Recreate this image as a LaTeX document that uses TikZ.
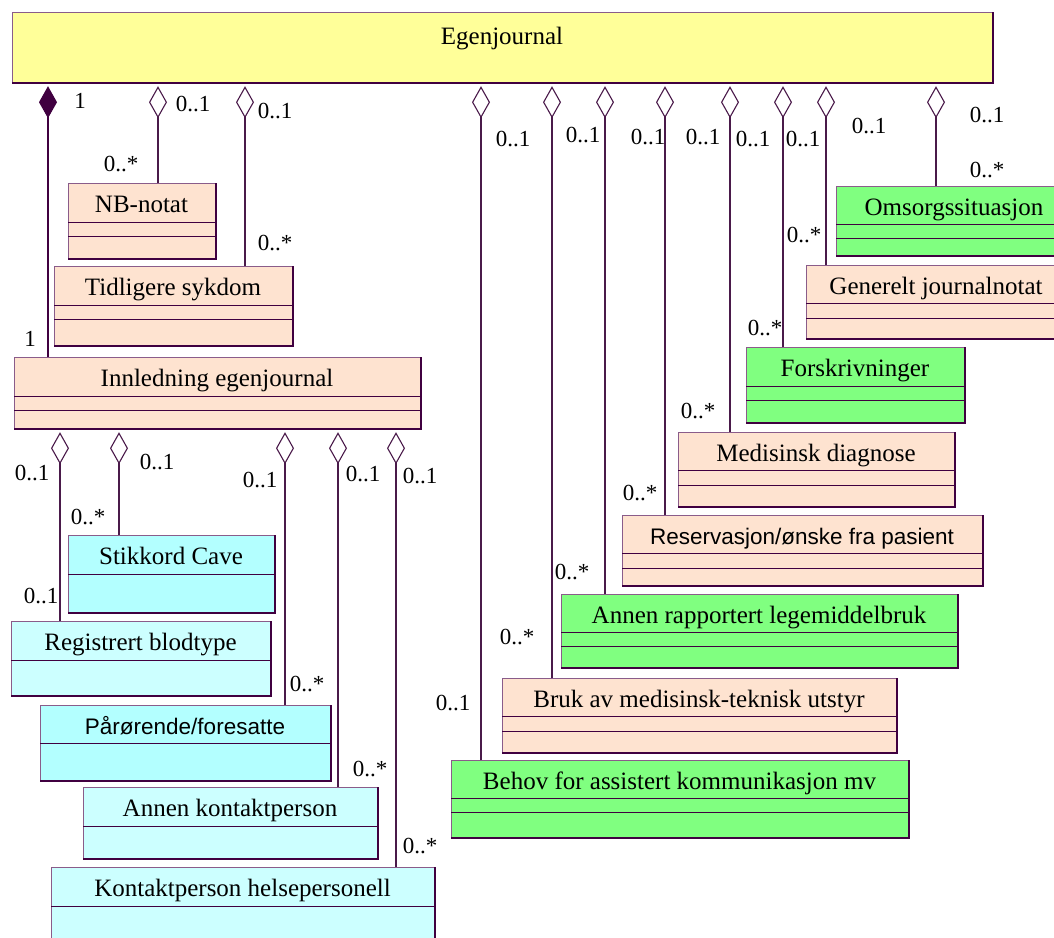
\documentclass[tikz,border=0pt]{standalone}
\usepackage{fontspec}
\setmainfont{Liberation Serif}
\newfontfamily\arialf{Liberation Sans}
\usetikzlibrary{arrows.meta}
\definecolor{yel}{HTML}{FFFF99}
\definecolor{peach}{HTML}{FEE3D0}
\definecolor{grn}{HTML}{80FF80}
\definecolor{cyA}{HTML}{B3FFFF}
\definecolor{cyB}{HTML}{CCFFFF}
\definecolor{edgeL}{HTML}{8A5C8A}
\definecolor{edgeD}{HTML}{400040}
\definecolor{ln}{HTML}{4A1A4A}
\tikzset{
  box/.style={draw=edgeL, line width=1.2pt, inner sep=0pt, anchor=north west},
  ttl/.style={font=\fontsize{25}{25}\selectfont, anchor=base, inner sep=0pt},
  sttl/.style={font=\arialf\fontsize{22.5}{22.5}\selectfont, anchor=base, inner sep=0pt},
  mult/.style={font=\fontsize{23}{23}\selectfont, inner sep=0pt},
  sepl/.style={draw=edgeD, line width=1pt},
  agg/.style={draw=ln, line width=1.1pt, -{Diamond[open, length=32pt, width=18pt]}, shorten >=3pt},
  cmp/.style={draw=edgeD, line width=1.1pt, -{Diamond[length=32pt, width=18pt]}, shorten >=3pt},
}
\newcommand\umlcls[9]{%
  \node[box, fill=#6, minimum width={(#4-#2)*1pt}, minimum height={(#5-#3)*1pt}] (#1) at (#2,#3) {};
  \foreach \yy in {#9} {\draw[sepl] (#2,\yy) -- (#4,\yy);}
  \draw[edgeD, line width=1.6pt] (#1.north east) -- (#1.south east) -- (#1.south west);
  \node[#7] (#1-t) at ({(#2+#4)/2},{#3+29.5}) {#8};
}
\begin{document}
\begin{tikzpicture}[x=1pt,y=-1pt]
\fill[white] (0,0) rectangle (1054,937);
\useasboundingbox (0,0) rectangle (1054,937);

% main class
\node[box, fill=yel, minimum width=980pt, minimum height=70pt] (egen) at (12,12) {};
\draw[edgeD, line width=1.6pt] (egen.north east) -- (egen.south east) -- (egen.south west);
\node[ttl] (egen-t) at (502,44) {Egenjournal};

% classes
\umlcls{nb}{68}{183}{215}{258}{peach}{ttl}{NB-notat}{222,236}
\umlcls{tid}{54}{266}{292}{345}{peach}{ttl}{Tidligere sykdom}{305,319}
\umlcls{innl}{14}{357}{420}{428}{peach}{ttl}{Innledning egenjournal}{396,410}
\umlcls{stik}{68}{535}{274}{612}{cyA}{ttl}{Stikkord Cave}{574}
\umlcls{reg}{11}{621}{270}{695}{cyB}{ttl}{Registrert blodtype}{660}
\umlcls{par}{40}{705}{330}{780}{cyA}{sttl}{Pårørende/foresatte}{743}
\umlcls{ann}{83}{787}{377}{858}{cyB}{ttl}{Annen kontaktperson}{826}
\umlcls{kon}{51}{867}{434}{952}{cyB}{ttl}{Kontaktperson helsepersonell}{906}
\umlcls{oms}{836}{186}{1072}{255}{grn}{ttl}{Omsorgssituasjon}{224,238}
\umlcls{gen}{806}{265}{1066}{338}{peach}{ttl}{Generelt journalnotat}{303,318}
\umlcls{fors}{746}{347}{964}{422}{grn}{ttl}{Forskrivninger}{386,400}
\umlcls{med}{678}{432}{954}{506}{peach}{ttl}{Medisinsk diagnose}{470,485}
\umlcls{res}{622}{515}{982}{585}{peach}{sttl}{Reservasjon/ønske fra pasient}{553,568}
\umlcls{arl}{561}{594}{957}{667}{grn}{ttl}{Annen rapportert legemiddelbruk}{632,646}
\umlcls{bruk}{502}{678}{896}{752}{peach}{ttl}{Bruk av medisinsk-teknisk utstyr}{716,731}
\umlcls{beh}{451}{760}{908}{837}{grn}{ttl}{Behov for assistert kommunikasjon mv}{798,812}

% connector x positions
\coordinate (xa) at (48,0);
\coordinate (xb) at (158,0);
\coordinate (xc) at (245,0);
\coordinate (xd) at (60,0);
\coordinate (xe) at (119,0);
\coordinate (xf) at (285,0);
\coordinate (xg) at (338,0);
\coordinate (xh) at (396,0);
\coordinate (r1) at (481,0);
\coordinate (r2) at (552,0);
\coordinate (r3) at (605,0);
\coordinate (r4) at (665,0);
\coordinate (r5) at (730,0);
\coordinate (r6) at (783,0);
\coordinate (r7) at (826,0);
\coordinate (r8) at (936,0);

% connectors
\draw[cmp] (innl.north -| xa) -- (egen.south -| xa);
\draw[agg] (nb.north -| xb) -- (egen.south -| xb);
\draw[agg] (tid.north -| xc) -- (egen.south -| xc);
\draw[agg] (reg.north -| xd) -- (innl.south -| xd);
\draw[agg] (stik.north -| xe) -- (innl.south -| xe);
\draw[agg] (par.north -| xf) -- (innl.south -| xf);
\draw[agg] (ann.north -| xg) -- (innl.south -| xg);
\draw[agg] (kon.north -| xh) -- (innl.south -| xh);
\draw[agg] (beh.north -| r1) -- (egen.south -| r1);
\draw[agg] (bruk.north -| r2) -- (egen.south -| r2);
\draw[agg] (arl.north -| r3) -- (egen.south -| r3);
\draw[agg] (res.north -| r4) -- (egen.south -| r4);
\draw[agg] (med.north -| r5) -- (egen.south -| r5);
\draw[agg] (fors.north -| r6) -- (egen.south -| r6);
\draw[agg] (gen.north -| r7) -- (egen.south -| r7);
\draw[agg] (oms.north -| r8) -- (egen.south -| r8);

% multiplicities
\node[mult] (m1) at (80,101) {1};
\node[mult] (m2) at (193,104) {0..1};
\node[mult] (m3) at (275,111) {0..1};
\node[mult] (m4) at (121,164) {0..*};
\node[mult] (m5) at (275,243) {0..*};
\node[mult] (m6) at (30,339) {1};
\node[mult] (m7) at (32,473) {0..1};
\node[mult] (m8) at (157,462) {0..1};
\node[mult] (m9) at (260,480) {0..1};
\node[mult] (m10) at (363,474) {0..1};
\node[mult] (m11) at (420,476) {0..1};
\node[mult] (m12) at (88,517) {0..*};
\node[mult] (m13) at (41,596) {0..1};
\node[mult] (m14) at (307,684) {0..*};
\node[mult] (m15) at (370,769) {0..*};
\node[mult] (m16) at (420,846) {0..*};
\node[mult] (n1) at (513,139) {0..1};
\node[mult] (n2) at (583,135) {0..1};
\node[mult] (n3) at (648,137) {0..1};
\node[mult] (n4) at (703,137) {0..1};
\node[mult] (n5) at (753,139) {0..1};
\node[mult] (n6) at (803,139) {0..1};
\node[mult] (n7) at (869,126) {0..1};
\node[mult] (n8) at (987,115) {0..1};
\node[mult] (p1) at (987,170) {0..*};
\node[mult] (p2) at (804,235) {0..*};
\node[mult] (p3) at (765,328) {0..*};
\node[mult] (p4) at (698,411) {0..*};
\node[mult] (p5) at (640,493) {0..*};
\node[mult] (p6) at (572,572) {0..*};
\node[mult] (p7) at (517,637) {0..*};
\node[mult] (p8) at (453,703) {0..1};
\end{tikzpicture}
\end{document}
